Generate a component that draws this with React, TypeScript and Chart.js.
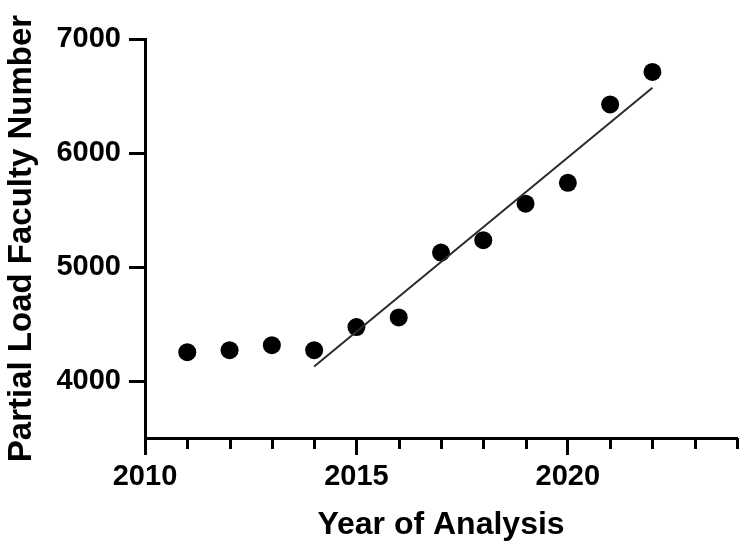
import React, { useEffect, useRef } from "react";
import { Chart, registerables } from "chart.js";

Chart.register(...registerables);

// Data
const years = [2011, 2012, 2013, 2014, 2015, 2016, 2017, 2018, 2019, 2020, 2021, 2022];
const facultyCounts = [4253, 4270, 4314, 4270, 4473, 4558, 5127, 5235, 5555, 5738, 6426, 6711];
const fitYears = [2014, 2022];
const fitValues = [4128, 6572];
const xTickValues = [2010, 2015, 2020];
const xMinorValues = [2011, 2012, 2013, 2014, 2016, 2017, 2018, 2019, 2021, 2022, 2023, 2024];
const yTickValues = [4000, 5000, 6000, 7000];
const xTitle = "Year of Analysis";
const yTitle = "Partial Load Faculty Number";

const FONT = "'Liberation Sans', Arial, sans-serif";

const minorTicksPlugin = {
  id: "minorTicks",
  afterDraw(chart: any) {
    const xs = chart.scales.x;
    const ctx = chart.ctx;
    ctx.save();
    ctx.strokeStyle = "#000";
    ctx.lineWidth = 3;
    xMinorValues.forEach((v) => {
      const px = Math.round(xs.getPixelForValue(v)) + 0.5;
      ctx.beginPath();
      ctx.moveTo(px, xs.top);
      ctx.lineTo(px, xs.top + 11);
      ctx.stroke();
    });
    ctx.restore();
  },
};

export default function App() {
  const canvasRef = useRef<HTMLCanvasElement | null>(null);

  useEffect(() => {
    if (!canvasRef.current) return;
    const chart = new Chart(canvasRef.current, {
      type: "scatter",
      data: {
        datasets: [
          {
            type: "line",
            label: "fit",
            data: fitYears.map((x, i) => ({ x, y: fitValues[i] })),
            borderColor: "#2a2a2a",
            borderWidth: 2,
            pointRadius: 0,
            fill: false,
          },
          {
            type: "scatter",
            label: "faculty",
            data: years.map((x, i) => ({ x, y: facultyCounts[i] })),
            backgroundColor: "#000",
            borderColor: "#000",
            borderWidth: 0,
            pointRadius: 9,
          },
        ],
      },
      options: {
        animation: false,
        responsive: false,
        layout: { padding: { top: 39, left: 0, right: 0, bottom: 0 } },
        plugins: { legend: { display: false }, tooltip: { enabled: false } },
        scales: {
          x: {
            type: "linear",
            min: 2010,
            max: 2024,
            afterBuildTicks: (scale: any) => {
              scale.ticks = xTickValues.map((v) => ({ value: v }));
            },
            afterFit: (scale: any) => {
              scale.height = 104;
            },
            border: { display: true, color: "#000", width: 3 },
            grid: {
              drawOnChartArea: false,
              drawTicks: true,
              tickLength: 17,
              tickWidth: 3,
              tickColor: "#000",
            },
            ticks: {
              color: "#000",
              padding: 5,
              maxRotation: 0,
              font: { family: FONT, size: 29, weight: "bold" },
              callback: (v: any) => String(v),
            },
            title: {
              display: true,
              text: xTitle,
              color: "#000",
              font: { family: FONT, size: 32, weight: "bold", lineHeight: 1 },
              padding: { top: 0, bottom: 1 },
            },
          },
          y: {
            type: "linear",
            min: 3500,
            max: 7000,
            afterBuildTicks: (scale: any) => {
              scale.ticks = yTickValues.map((v) => ({ value: v }));
            },
            afterFit: (scale: any) => {
              scale.width = 145;
            },
            border: { display: true, color: "#000", width: 3 },
            grid: {
              drawOnChartArea: false,
              drawTicks: true,
              tickLength: 16,
              tickWidth: 3,
              tickColor: "#000",
            },
            ticks: {
              color: "#000",
              padding: 8,
              font: { family: FONT, size: 29, weight: "bold" },
              callback: (v: any) => String(v),
            },
            title: {
              display: true,
              text: yTitle,
              color: "#000",
              font: { family: FONT, size: 33, weight: "bold", lineHeight: 1 },
              padding: { top: 5, bottom: 0 },
            },
          },
        },
      },
      plugins: [minorTicksPlugin],
    });
    return () => chart.destroy();
  }, []);

  return (
    <div
      style={{
        position: "absolute",
        left: 0,
        top: 0,
        width: 743,
        height: 542,
        overflow: "hidden",
        background: "#fff",
      }}
    >
      <canvas ref={canvasRef} width={746} height={542} style={{ display: "block" }} />
    </div>
  );
}
